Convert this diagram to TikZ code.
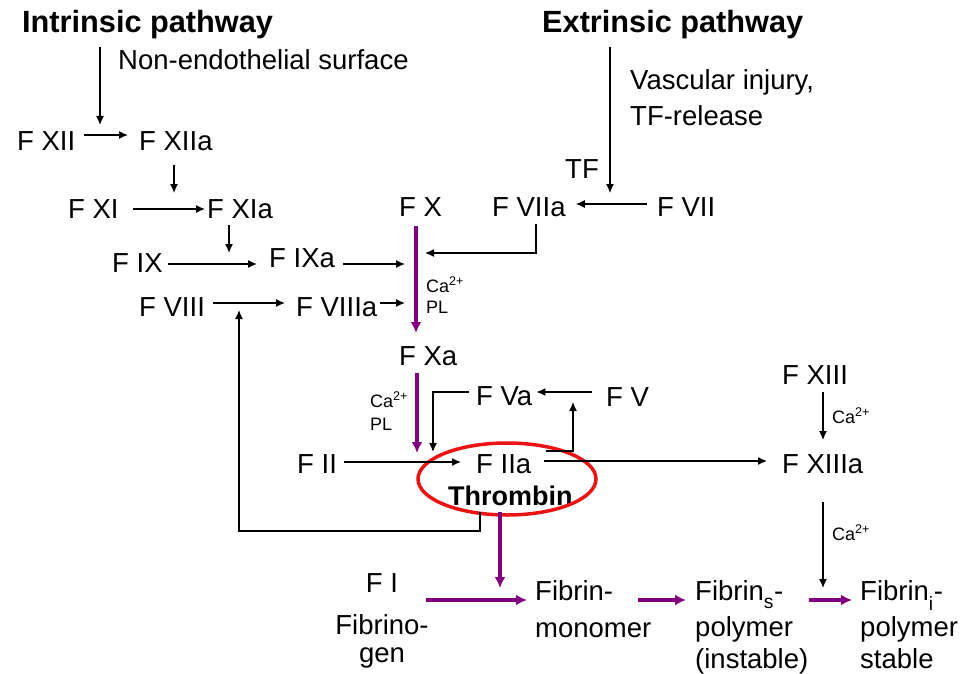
\documentclass[tikz,border=0pt]{standalone}
\usepackage{fontspec}
\setmainfont{Liberation Sans}
\usetikzlibrary{arrows.meta}
\definecolor{purp}{RGB}{128,0,128}
\definecolor{ringred}{RGB}{235,20,20}
\begin{document}
\begin{tikzpicture}[x=1pt,y=-1pt,
 lab/.style={inner sep=0pt, anchor=base west, font=\fontsize{27.5}{32}\selectfont},
 labc/.style={lab, anchor=base},
 small/.style={inner sep=0pt, anchor=base west, font=\fontsize{18}{20}\selectfont},
 ttl/.style={inner sep=0pt, anchor=base west, font=\fontsize{30.7}{34}\selectfont\bfseries},
 arr/.style={-{Latex[length=9pt,width=8pt]}, line width=1.3pt},
 ln/.style={line width=1.3pt},
 parr/.style={-{Latex[length=11pt,width=11pt]}, line width=4pt, color=purp},
]
\useasboundingbox (0,0) rectangle (974,674);

% titles and notes
\node[ttl] (ititle) at (22,33) {Intrinsic pathway};
\node[ttl] (etitle) at (542,33) {Extrinsic pathway};
\node[lab] (nes) at (118,70) {Non-endothelial surface};
\node[lab] (vi) at (630,90) {Vascular injury,};
\node[lab] (tfr) at (630,125) {TF-release};
\node[lab] (tf) at (565,178) {TF};

% factors
\node[lab] (fxii) at (17,150) {F XII};
\node[lab] (fxiia) at (139,150) {F XIIa};
\node[lab] (fxi) at (68,218) {F XI};
\node[lab] (fxia) at (207,218) {F XIa};
\node[lab] (fix) at (112,272) {F IX};
\node[lab] (fixa) at (269,267) {F IXa};
\node[lab] (fx) at (399,216) {F X};
\node[lab] (fviia) at (492,216) {F VIIa};
\node[lab] (fvii) at (657,216) {F VII};
\node[lab] (fviii) at (139,316) {F VIII};
\node[lab] (fviiia) at (296,316) {F VIIIa};
\node[small] (ca1) at (426,292) {Ca\textsuperscript{2+}};
\node[small] (pl1) at (426,313) {PL};
\node[lab] (fxa) at (399,365) {F Xa};
\node[small] (ca2) at (370,407) {Ca\textsuperscript{2+}};
\node[small] (pl2) at (370,430) {PL};
\node[lab] (fva) at (476,405) {F Va};
\node[lab] (fv) at (606,406) {F V};
\node[lab] (fii) at (297,473) {F II};
\node[lab] (fiia) at (476,473) {F IIa};
\node[lab, font=\fontsize{27}{32}\selectfont\bfseries] (thr) at (448,505) {Thrombin};
\node[lab] (fxiii) at (782,384) {F XIII};
\node[lab] (fxiiia) at (782,473) {F XIIIa};
\node[small] (ca3) at (832,423) {Ca\textsuperscript{2+}};
\node[small] (ca4) at (832,540) {Ca\textsuperscript{2+}};

% bottom row
\node[labc] (fi) at (382,592) {F I};
\node[labc] (fibrino) at (382,634) {Fibrino-};
\node[labc] (gen) at (382,662) {gen};
\node[lab] (fm1) at (535,600) {Fibrin-};
\node[lab] (fm2) at (535,637) {monomer};
\node[lab] (fs1) at (695,600) {Fibrin\raisebox{-0.35ex}{\textsubscript{s}}-};
\node[lab] (fs2) at (695,636) {polymer};
\node[lab] (fs3) at (695,668) {(instable)};
\node[lab] (ft1) at (860,600) {Fibrin\raisebox{-0.35ex}{\textsubscript{i}}-};
\node[lab] (ft2) at (860,636) {polymer};
\node[lab] (ft3) at (860,668) {stable};

% thrombin ring
\draw[ringred, line width=3.5pt] (507,479) ellipse [x radius=89pt, y radius=36pt];

% free ends
\coordinate (intrEnd) at (100,125);
\coordinate (extrEnd) at (610,193);
\coordinate (xiiaEnd) at (174,193);
\coordinate (xiaEnd) at (229,253);
\coordinate (ixaEnd) at (405,264);
\coordinate (viiiaEnd) at (405,303);
\coordinate (viiaEnd) at (425,253);
\coordinate (xaEnd) at (417,453);
\coordinate (vaEnd) at (433,452);
\coordinate (iiaUpEnd) at (573,402);
\coordinate (fbEnd) at (239,310);
\coordinate (thrEnd) at (500,588);
\coordinate (xiiiaEnd) at (823,588);
\coordinate (fibStart) at (426,600);

% intrinsic
\draw[arr] ([xshift=78pt,yshift=-14pt]ititle.base west) -- (intrEnd);
\draw[arr] ([xshift=9pt,yshift=15pt]fxii.base east) -- ([xshift=-11pt,yshift=15pt]fxiia.base west);
\draw[arr] ([xshift=35pt,yshift=-15pt]fxiia.base west) -- (xiiaEnd);
\draw[arr] ([xshift=14pt,yshift=9pt]fxi.base east) -- ([xshift=-2pt,yshift=9pt]fxia.base west);
\draw[arr] ([xshift=22pt,yshift=-7pt]fxia.base west) -- (xiaEnd);
\draw[arr] ([xshift=5pt,yshift=8pt]fix.base east) -- ([xshift=-12pt,yshift=3pt]fixa.base west);
\draw[arr] ([xshift=8pt,yshift=3pt]fixa.base east) -- (ixaEnd);
\draw[arr] ([xshift=8pt,yshift=13pt]fviii.base east) -- ([xshift=-11pt,yshift=13pt]fviiia.base west);
\draw[arr] ([xshift=3pt,yshift=13pt]fviiia.base east) -- (viiiaEnd);

% extrinsic
\draw[arr] ([xshift=68pt,yshift=-14pt]etitle.base west) -- (extrEnd);
\draw[arr] ([xshift=-10pt,yshift=12pt]fvii.base west) -- ([xshift=10pt,yshift=12pt]fviia.base east);
\draw[arr] ([xshift=44pt,yshift=-8pt]fviia.base west) |- (viiaEnd);

% common pathway
\draw[parr] ([xshift=17pt,yshift=-10pt]fx.base west) -- ([xshift=17pt,yshift=32pt]fxa.base west);
\draw[parr] ([xshift=18pt,yshift=-8pt]fxa.base west) -- (xaEnd);
\draw[arr] ([xshift=-14pt,yshift=14pt]fv.base west) -- ([xshift=4pt,yshift=13pt]fva.base east);
\draw[arr] ([xshift=-7pt,yshift=13pt]fva.base west) -| (vaEnd);
\draw[arr] ([xshift=15pt,yshift=22pt]fiia.base east) -| (iiaUpEnd);
\draw[arr] ([xshift=7pt,yshift=11pt]fii.base east) -- ([xshift=-15pt,yshift=11pt]fiia.base west);
\draw[arr] ([xshift=13pt,yshift=12pt]fiia.base east) -- ([xshift=-15pt,yshift=12pt]fxiiia.base west);
\draw[arr] ([xshift=32pt,yshift=-7pt]thr.base west) -- ++(0,19) -| (fbEnd);

% factor XIII
\draw[arr] ([xshift=41pt,yshift=-8pt]fxiii.base west) -- ([xshift=41pt,yshift=33pt]fxiiia.base west);
\draw[arr] ([xshift=41pt,yshift=-29pt]fxiiia.base west) -- (xiiiaEnd);

% fibrin formation
\draw[parr] ([xshift=52pt,yshift=-7pt]thr.base west) -- (thrEnd);
\draw[parr] (fibStart) -- ([xshift=-8pt]fm1.base west);
\draw[parr] ([xshift=25pt]fm1.base east) -- ([xshift=-9pt]fs1.base west);
\draw[parr] ([xshift=26pt]fs1.base east) -- ([xshift=-8pt]ft1.base west);
\end{tikzpicture}
\end{document}
